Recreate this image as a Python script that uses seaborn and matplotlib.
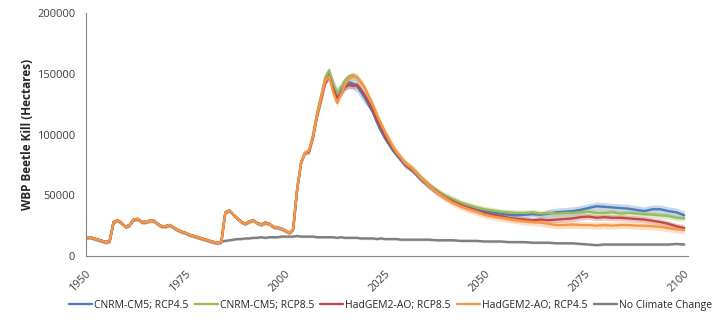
import pandas as pd
import matplotlib
matplotlib.use("Agg")
import matplotlib.pyplot as plt
import seaborn as sns

# --- data ---
years_hist = list(range(1950, 1984))                      # shared by all runs
years_mid = list(range(1984, 2006))
years_proj = list(range(2006, 2031)) + list(range(2032, 2101, 2))
years = years_hist + years_mid + years_proj

hist = [15000, 15500, 14500, 13500, 12500, 11500, 12000, 28000, 29500, 27000,
        24000, 25500, 30000, 30500, 28000, 28000, 29000, 29000, 26500, 24500,
        24500, 25500, 23500, 21500, 20000, 19000, 17500, 16500, 15500, 14500,
        13500, 12500, 11500, 10800]

# 1984-2005, climate runs (common outbreak) and no-climate-change run
mid_climate = [11500, 36000, 37500, 34000, 31000, 28000, 26500, 28500, 29500, 27000,
               26000, 27500, 26500, 24000, 23500, 22500, 21000, 19000, 22000, 55000,
               77000, 85000]
mid_nocc = [12000, 12500, 13000, 13500, 14000, 14000, 14500, 14500, 15000, 15000,
            15500, 15000, 15500, 15500, 15500, 16000, 16000, 16000, 16000, 16500,
            16000, 16000]

cnrm_45 = [87000, 99000, 117000, 131000, 145000, 150000, 141000, 134000, 137000, 141000,
           143000, 142000, 140000, 135000, 130000, 124000, 118000, 110000, 103000, 97000,
           92000, 87000, 83000, 79000, 75000,
           70000, 63000, 57500, 52500, 48500, 45000, 42000, 40000, 38000, 37000,
           36000, 35000, 34000, 33500, 34000, 34500, 34000, 35000, 36000, 36500,
           37000, 38000, 39500, 41000, 40500, 40000, 39500, 39000, 38000, 37000,
           38500, 38500, 37000, 36000, 33500]
cnrm_85 = [87000, 100000, 118000, 132000, 147000, 153000, 142000, 134000, 139000, 145000,
           148000, 149000, 147000, 143000, 138000, 131000, 124000, 116000, 109000, 102000,
           96000, 90000, 85000, 81000, 77000,
           72000, 65000, 59000, 54000, 50000, 47000, 44000, 42000, 40000, 38500,
           37500, 36500, 36000, 35500, 35500, 36000, 35000, 35500, 35000, 35500,
           35500, 36000, 36500, 35500, 35500, 36000, 35000, 35500, 35000, 34500,
           34000, 33500, 33000, 31500, 31000]
had_85 = [86000, 98000, 115000, 128000, 142000, 148000, 138000, 130000, 134000, 139000,
          141000, 140000, 141000, 137000, 132000, 126000, 120000, 112000, 106000, 99000,
          93000, 88000, 84000, 80000, 75500,
          70500, 63500, 58000, 53000, 48500, 45000, 42000, 39500, 37500, 35500,
          34000, 33000, 31500, 30500, 30000, 29500, 30000, 29500, 30000, 30500,
          31000, 32000, 32500, 31500, 32000, 31500, 31500, 31000, 30500, 30000,
          29000, 28000, 26500, 24500, 23000]
had_45 = [87000, 99000, 116000, 130000, 144000, 148000, 135000, 126000, 133000, 141000,
          146000, 148000, 147000, 143000, 138000, 131000, 124000, 116000, 109000, 102000,
          96000, 90000, 85000, 81000, 76500,
          71500, 64000, 58000, 52500, 48000, 44000, 41000, 38500, 36500, 34000,
          32500, 31500, 30500, 29500, 28500, 28000, 27500, 26500, 25500, 25500,
          26000, 25500, 25500, 25000, 25500, 25000, 25500, 25500, 25000, 25000,
          24500, 24000, 23000, 22000, 21500]
no_cc = [16000, 16000, 15500, 15500, 15500, 15500, 15500, 15000, 15500, 15000,
         15000, 15000, 15000, 14500, 14500, 14500, 14500, 14000, 14500, 14000,
         14000, 14000, 14000, 13500, 13500,
         13500, 13500, 13500, 13000, 13000, 13000, 12500, 12500, 12500, 12000,
         12000, 12000, 11500, 11500, 11500, 11000, 11000, 11000, 10500, 10500,
         10500, 10000, 9500, 9000, 9500, 9500, 9500, 9500, 9500, 9500,
         9500, 9500, 9500, 10000, 9500]

# half-width of the shaded range around each run
spread = {
    "CNRM-CM5; RCP4.5": [1500] * 56 + [2500] * 5 + [5000] * 10 + [2500] * 10 + [2000] * 17 + [3500] * 18,
    "CNRM-CM5; RCP8.5": [1500] * 56 + [2500] * 60,
    "HadGEM2-AO; RCP8.5": [1500] * 56 + [2500] * 60,
    "HadGEM2-AO; RCP4.5": [1500] * 56 + [3000] * 60,
    "No Climate Change": [1000] * 116,
}

series = {
    "CNRM-CM5; RCP4.5": hist + mid_climate + cnrm_45,
    "CNRM-CM5; RCP8.5": hist + mid_climate + cnrm_85,
    "HadGEM2-AO; RCP8.5": hist + mid_climate + had_85,
    "HadGEM2-AO; RCP4.5": hist + mid_climate + had_45,
    "No Climate Change": hist + mid_nocc + no_cc,
}
colors = ["#4A7EBB", "#9BBB59", "#BE4B48", "#F79646", "#7F7F7F"]

# long table: low / mid / high per year, seaborn draws median line + min-max band
rows = []
for name, vals in series.items():
    for yr, v, w in zip(years, vals, spread[name]):
        for off in (-w, 0, w):
            rows.append({"Year": yr, "Kill": v + off, "Run": name})
df = pd.DataFrame(rows)

sns.set_style("white")
plt.rcParams["font.family"] = ["Open Sans", "DejaVu Sans"]

fig = plt.figure(figsize=(7.26, 3.36), dpi=100)
ax = fig.add_axes([0.118, 0.238, 0.830, 0.723])

sns.lineplot(data=df, x="Year", y="Kill", hue="Run", palette=colors,
             estimator="median", errorbar=("pi", 100),
             err_kws={"alpha": 0.3, "linewidth": 0}, linewidth=1.7, ax=ax)

# the no-climate-change run sits underneath the others over the shared history
for ln in ax.lines:
    if matplotlib.colors.to_hex(ln.get_color()).lower() == "#7f7f7f":
        ln.set_zorder(1.5)

ax.set_xlim(1950, 2101)
ax.set_ylim(0, 200000)
ax.set_xticks(range(1950, 2101, 25))
ax.set_yticks(range(0, 200001, 50000))
ax.set_xlabel("")
ax.set_ylabel("WBP Beetle Kill (Hectares)", fontsize=8.5, fontweight="bold", labelpad=2)
ax.tick_params(axis="y", labelsize=8, length=4, color="#868686", labelcolor="#404040")
ax.tick_params(axis="x", labelsize=8, length=4, pad=5, color="#868686",
               labelcolor="#404040", rotation=45)
for lab in ax.get_xticklabels():
    lab.set_ha("right")
    lab.set_rotation_mode("anchor")
sns.despine(ax=ax)
for s in ("left", "bottom"):
    ax.spines[s].set_color("#868686")
    ax.spines[s].set_linewidth(0.8)

sns.move_legend(ax, "center", bbox_to_anchor=(0.538, 0.092),
                bbox_transform=fig.transFigure, ncol=5, frameon=False, title=None,
                fontsize=7.5, handlelength=2.2, handletextpad=0.2, columnspacing=0.6,
                borderaxespad=0, borderpad=0)

fig.savefig("out.png", dpi=100)
